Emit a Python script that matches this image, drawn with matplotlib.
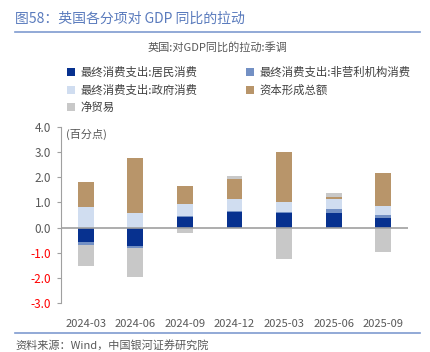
import numpy as np
import matplotlib.pyplot as plt

plt.rcParams['font.family'] = ['Noto Sans CJK SC', 'DejaVu Sans']

quarters = ["2024-03", "2024-06", "2024-09", "2024-12", "2025-03", "2025-06", "2025-09"]
household = [-0.57, -0.73, 0.44, 0.63, 0.56, 0.59, 0.40]
npish = [-0.13, -0.09, 0.02, 0.04, 0.04, 0.13, 0.11]
government = [0.83, 0.57, 0.47, 0.48, 0.43, 0.43, 0.36]
capital = [0.96, 2.20, 0.73, 0.76, 1.97, 0.08, 1.31]
net_trade = [-0.83, -1.12, -0.20, 0.15, -1.24, 0.16, -0.97]

names = ["最终消费支出:居民消费", "最终消费支出:非营利机构消费",
         "最终消费支出:政府消费", "资本形成总额", "净贸易"]
colors = ["#07318f", "#7390c4", "#d0ddf0", "#b8956a", "#c8c8c8"]
series = [household, npish, government, capital, net_trade]

fig = plt.figure(figsize=(4.3, 3.52), dpi=100)
ax = fig.add_axes([61/430, 48.7/352, 347/430, 176.6/352])

x = np.arange(len(quarters))
pos_base = np.zeros(len(quarters))
neg_base = np.zeros(len(quarters))
handles = []
for vals, c, n in zip(series, colors, names):
    v = np.array(vals)
    bottom = np.where(v >= 0, pos_base, neg_base)
    b = ax.bar(x, v, width=0.32, bottom=bottom, color=c, label=n)
    handles.append(b)
    pos_base = pos_base + np.where(v >= 0, v, 0)
    neg_base = neg_base + np.where(v < 0, v, 0)

ax.axhline(0, color="#a0a0a0", lw=1.2, zorder=3)
ax.set_xlim(-0.5, 6.5)
ax.set_ylim(-3, 4)
yt = np.arange(-3, 4.1, 1)
ax.set_yticks(yt)
ax.set_yticklabels([f"{t:.1f}" for t in yt])
for lab, t in zip(ax.get_yticklabels(), yt):
    lab.set_color("red" if t < 0 else "#595959")
ax.set_xticks(x)
ax.set_xticklabels(quarters, color="#595959")
ax.tick_params(axis="x", length=0, pad=11, labelsize=8)
ax.tick_params(axis="y", length=3, color="#a0a0a0", labelsize=8.5, pad=4)
for s in ["top", "right", "bottom"]:
    ax.spines[s].set_visible(False)
ax.spines["left"].set_color("#a0a0a0")
ax.text(0.013, 0.955, "(百分点)", transform=ax.transAxes, fontsize=8,
        color="#595959", va="center", ha="left")

fig.text(15/430, 1 - 19/352, "图58：英国各分项对 GDP 同比的拉动", fontsize=10,
         color="#5a7bbd", va="center", ha="left")
fig.add_artist(plt.Line2D([15/430, 420/430], [1 - 32/352, 1 - 32/352],
                          color="#7f9bd0", lw=1.2))
fig.text(218/430, 1 - 47/352, "英国:对GDP同比的拉动:季调", fontsize=8,
         color="#595959", va="center", ha="center")

# row-wise order: household, npish / government, capital / net trade
order = [0, 2, 4, 1, 3]
fig.legend([handles[i] for i in order], [names[i] for i in order],
           loc="upper left", bbox_to_anchor=(57/430, 1 - 56/352), ncol=2,
           frameon=False, fontsize=8.2, handlelength=0.7, handleheight=0.7,
           handletextpad=0.45, columnspacing=4.3, labelspacing=0.6,
           labelcolor="#404040")

fig.add_artist(plt.Line2D([15/430, 420/430], [1 - 333/352, 1 - 333/352],
                          color="#7f9bd0", lw=1.2))
fig.text(15/430, 1 - 345/352, "资料来源：Wind，中国银河证券研究院", fontsize=8,
         color="#595959", style="italic", va="center", ha="left")

fig.savefig("out.png", dpi=100)
